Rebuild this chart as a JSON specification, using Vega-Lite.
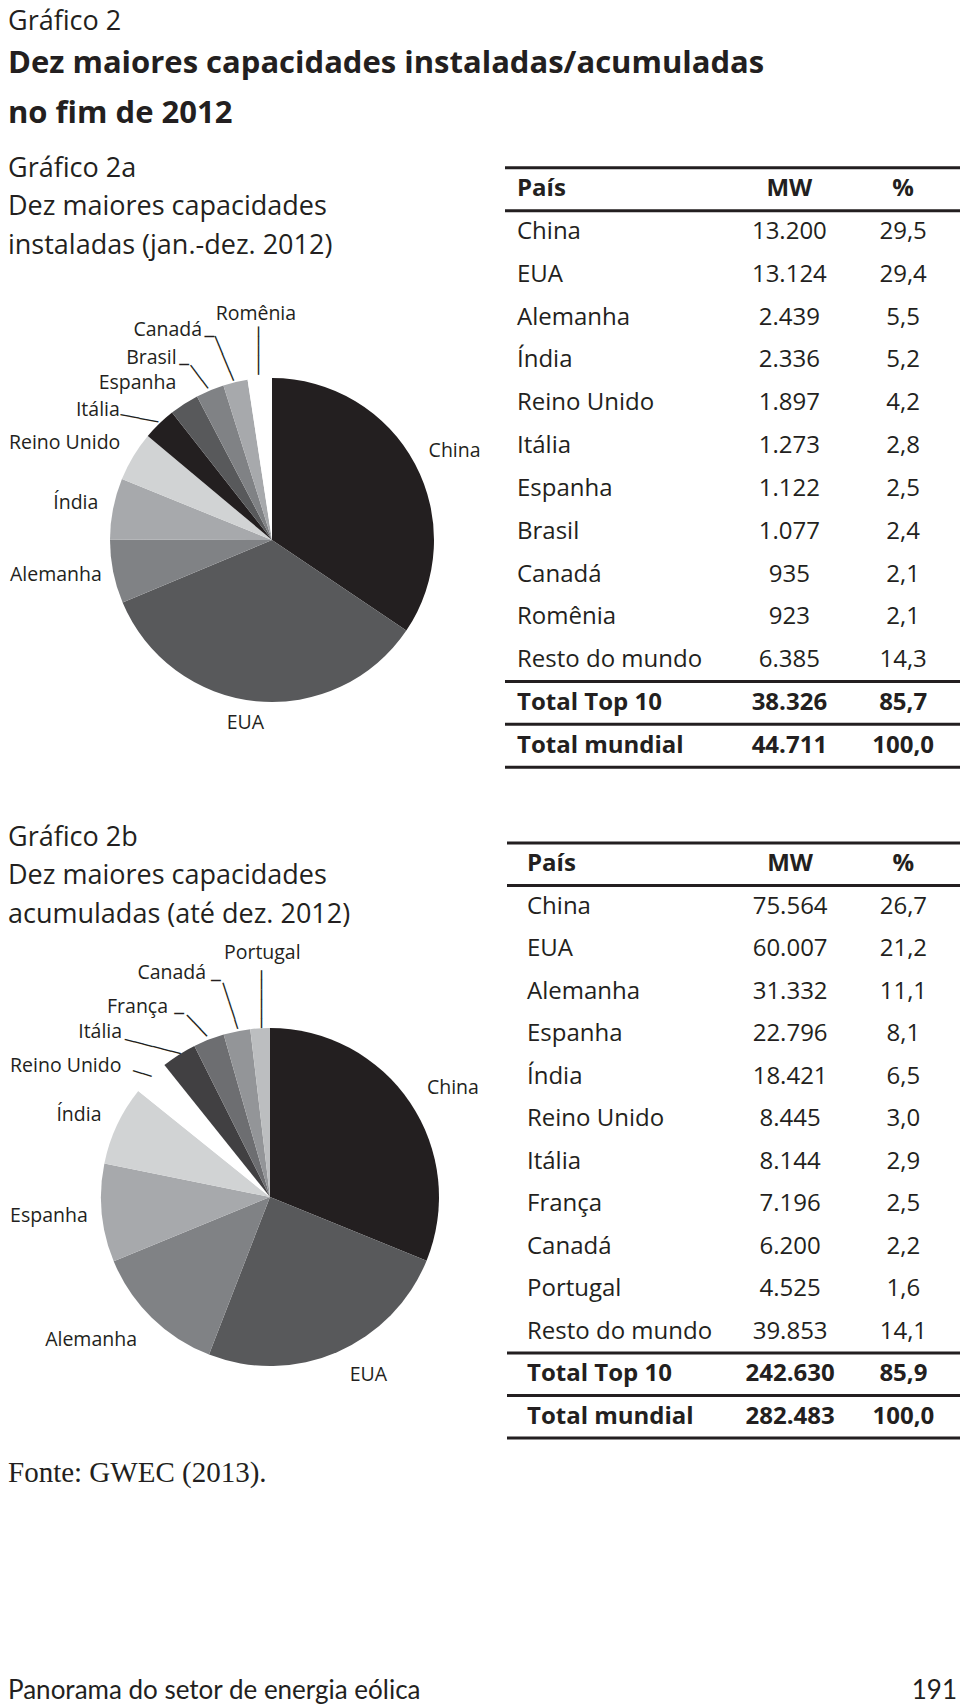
{
  "$schema": "https://vega.github.io/schema/vega-lite/v6.json",
  "padding": {"left": 8, "top": 8, "right": 2, "bottom": 8},
  "background": "white",
  "config": {
    "view": {"stroke": null},
    "font": "Open Sans",
    "locale": {"number": {"decimal": ",", "thousands": ".", "grouping": [3], "currency": ["R$", ""]}},
    "title": {"anchor": "start", "color": "#231f20", "font": "Open Sans", "fontWeight": "normal", "frame": "group"},
    "text": {"color": "#231f20", "font": "Open Sans"}
  },
  "title": {
    "text": "Gráfico 2",
    "fontSize": 27,
    "subtitle": ["Dez maiores capacidades instaladas/acumuladas", "no fim de 2012"],
    "subtitleFont": "Open Sans",
    "subtitleFontSize": 31,
    "subtitleFontWeight": "bold",
    "subtitleColor": "#231f20",
    "subtitleLineHeight": 50,
    "subtitlePadding": 12.5,
    "offset": 25
  },
  "datasets": {
    "instalada": [
      {"pais": "País", "tipo": "cabeçalho"},
      {"pais": "China", "mw": 13200, "pct": 29.5, "tipo": "país"},
      {"pais": "EUA", "mw": 13124, "pct": 29.4, "tipo": "país"},
      {"pais": "Alemanha", "mw": 2439, "pct": 5.5, "tipo": "país"},
      {"pais": "Índia", "mw": 2336, "pct": 5.2, "tipo": "país"},
      {"pais": "Reino Unido", "mw": 1897, "pct": 4.2, "tipo": "país"},
      {"pais": "Itália", "mw": 1273, "pct": 2.8, "tipo": "país"},
      {"pais": "Espanha", "mw": 1122, "pct": 2.5, "tipo": "país"},
      {"pais": "Brasil", "mw": 1077, "pct": 2.4, "tipo": "país"},
      {"pais": "Canadá", "mw": 935, "pct": 2.1, "tipo": "país"},
      {"pais": "Romênia", "mw": 923, "pct": 2.1, "tipo": "país"},
      {"pais": "Resto do mundo", "mw": 6385, "pct": 14.3, "tipo": "resto"},
      {"pais": "Total Top 10", "mw": 38326, "pct": 85.7, "tipo": "total"},
      {"pais": "Total mundial", "mw": 44711, "pct": 100.0, "tipo": "total"}
    ],
    "acumulada": [
      {"pais": "País", "tipo": "cabeçalho"},
      {"pais": "China", "mw": 75564, "pct": 26.7, "tipo": "país"},
      {"pais": "EUA", "mw": 60007, "pct": 21.2, "tipo": "país"},
      {"pais": "Alemanha", "mw": 31332, "pct": 11.1, "tipo": "país"},
      {"pais": "Espanha", "mw": 22796, "pct": 8.1, "tipo": "país"},
      {"pais": "Índia", "mw": 18421, "pct": 6.5, "tipo": "país"},
      {"pais": "Reino Unido", "mw": 8445, "pct": 3.0, "tipo": "país"},
      {"pais": "Itália", "mw": 8144, "pct": 2.9, "tipo": "país"},
      {"pais": "França", "mw": 7196, "pct": 2.5, "tipo": "país"},
      {"pais": "Canadá", "mw": 6200, "pct": 2.2, "tipo": "país"},
      {"pais": "Portugal", "mw": 4525, "pct": 1.6, "tipo": "país"},
      {"pais": "Resto do mundo", "mw": 39853, "pct": 14.1, "tipo": "resto"},
      {"pais": "Total Top 10", "mw": 242630, "pct": 85.9, "tipo": "total"},
      {"pais": "Total mundial", "mw": 282483, "pct": 100.0, "tipo": "total"}
    ],
    "titulos": [
      {"grafico": "2a", "texto": "Gráfico 2a\nDez maiores capacidades\ninstaladas (jan.-dez. 2012)"},
      {"grafico": "2b", "texto": "Gráfico 2b\nDez maiores capacidades\nacumuladas (até dez. 2012)"}
    ]
  },
  "spacing": 2,
  "resolve": {"scale": {"color": "independent", "theta": "independent", "x": "independent", "y": "independent"}},
  "vconcat": [
    {
      "spacing": 0,
      "resolve": {"scale": {"color": "independent", "theta": "independent", "x": "independent", "y": "independent"}},
      "hconcat": [
        {
          "spacing": 0,
          "resolve": {"scale": {"color": "independent", "theta": "independent", "x": "independent", "y": "independent"}},
          "vconcat": [
            {
              "width": 495,
              "height": 1,
              "data": {"name": "titulos"},
              "transform": [{"filter": "datum.grafico === '2a'"}],
              "mark": {"type": "text", "align": "left", "baseline": "top", "fontSize": 27, "lineHeight": 38.5, "lineBreak": "\n"},
              "encoding": {
                "x": {"field": "grafico", "type": "nominal", "bandPosition": 0, "axis": null, "scale": {"type": "band", "paddingInner": 0, "paddingOuter": 0}},
                "text": {"field": "texto"}
              }
            },
            {
              "width": 495,
              "height": 562,
              "data": {"name": "instalada"},
              "transform": [{"filter": "datum.tipo === 'país'"}],
              "layer": [
                {
                  "mark": {"type": "arc", "outerRadius": 162, "xOffset": 16.5},
                  "encoding": {
                    "theta": {"field": "mw", "type": "quantitative", "stack": true},
                    "order": {"field": "mw", "type": "quantitative", "sort": "descending"},
                    "color": {
                      "field": "pais", "type": "nominal", "legend": null,
                      "scale": {
                        "domain": ["China", "EUA", "Alemanha", "Índia", "Reino Unido", "Itália", "Espanha", "Brasil", "Canadá", "Romênia"],
                        "range": ["#231f20", "#58595b", "#808285", "#a7a9ac", "#d1d3d4", "#231f20", "#58595b", "#808285", "#a7a9ac", "#ffffff"]
                      }
                    }
                  }
                },
                {
                  "mark": {
                    "type": "text", "radius": 200, "fontSize": 19.5, "align": "center", "baseline": "middle",
                    "dx": {"expr": "[22.5,9.5,-3.5,16.5,-19.5,-18.5,-9.5,-27.5,-42.5,15.5][indexof(['China','EUA','Alemanha','Índia','Reino Unido','Itália','Espanha','Brasil','Canadá','Romênia'], datum.pais)]"},
                    "dy": {"expr": "[5,-16,-4,2,6,14,11,3,-15,-27][indexof(['China','EUA','Alemanha','Índia','Reino Unido','Itália','Espanha','Brasil','Canadá','Romênia'], datum.pais)]"}
                  },
                  "encoding": {
                    "theta": {"field": "mw", "type": "quantitative", "stack": true},
                    "order": {"field": "mw", "type": "quantitative", "sort": "descending"},
                    "text": {"field": "pais"}
                  }
                },
                {
                  "mark": {
                    "type": "text", "radius": 185, "font": "DejaVu Sans", "fontSize": 16, "align": "center", "baseline": "middle",
                    "angle": {"expr": "[0,0,0,0,0,10.7,0,53.1,67.3,90][indexof(['China','EUA','Alemanha','Índia','Reino Unido','Itália','Espanha','Brasil','Canadá','Romênia'], datum.pais)]"},
                    "dx": {"expr": "[0,0,0,0,0,14.4,0,14.9,2.8,-5][indexof(['China','EUA','Alemanha','Índia','Reino Unido','Itália','Espanha','Brasil','Canadá','Romênia'], datum.pais)]"},
                    "dy": {"expr": "[0,0,0,0,0,9.1,0,-6.7,-9.8,-16.5][indexof(['China','EUA','Alemanha','Índia','Reino Unido','Itália','Espanha','Brasil','Canadá','Romênia'], datum.pais)]"}
                  },
                  "encoding": {
                    "theta": {"field": "mw", "type": "quantitative", "stack": true},
                    "order": {"field": "mw", "type": "quantitative", "sort": "descending"},
                    "text": {
                      "condition": [
                        {"test": "datum.pais === 'Itália'", "value": "────"},
                        {"test": "datum.pais === 'Brasil'", "value": "───"},
                        {"test": "datum.pais === 'Canadá'", "value": "─────"},
                        {"test": "datum.pais === 'Romênia'", "value": "─────"}
                      ],
                      "value": ""
                    }
                  }
                },
                {
                  "mark": {
                    "type": "text", "radius": 185, "font": "DejaVu Sans", "fontSize": 16, "align": "center", "baseline": "middle",
                    "dx": {"expr": "[0,0,0,0,0,0,0,-0.7,-4.4,0][indexof(['China','EUA','Alemanha','Índia','Reino Unido','Itália','Espanha','Brasil','Canadá','Romênia'], datum.pais)]"},
                    "dy": {"expr": "[0,0,0,0,0,0,0,-4.1,-22.7,0][indexof(['China','EUA','Alemanha','Índia','Reino Unido','Itália','Espanha','Brasil','Canadá','Romênia'], datum.pais)]"}
                  },
                  "encoding": {
                    "theta": {"field": "mw", "type": "quantitative", "stack": true},
                    "order": {"field": "mw", "type": "quantitative", "sort": "descending"},
                    "text": {
                      "condition": [
                        {"test": "datum.pais === 'Brasil'", "value": "─"},
                        {"test": "datum.pais === 'Canadá'", "value": "─"}
                      ],
                      "value": ""
                    }
                  }
                }
              ]
            }
          ]
        },
        {
          "width": 455,
          "height": 625,
          "data": {"name": "instalada"},
          "encoding": {
            "y": {
              "field": "pais", "type": "nominal", "axis": null,
              "scale": {"type": "band", "paddingInner": 0, "paddingOuter": 0.3,
                "domain": ["País", "China", "EUA", "Alemanha", "Índia", "Reino Unido", "Itália", "Espanha", "Brasil", "Canadá", "Romênia", "Resto do mundo", "Total Top 10", "Total mundial"]}
            }
          },
          "layer": [
            {
              "transform": [{"filter": "datum.tipo === 'país' || datum.tipo === 'resto'"}],
              "mark": {"type": "text", "align": "left", "baseline": "middle", "fontSize": 24, "dx": 12},
              "encoding": {
                "x": {"datum": "pais", "type": "nominal", "bandPosition": 0, "axis": null, "scale": {"type": "band", "domain": ["pais", "vazio", "mw", "pct"], "paddingInner": 0, "paddingOuter": 0}},
                "text": {"field": "pais"}
              }
            },
            {
              "transform": [{"filter": "datum.tipo === 'cabeçalho' || datum.tipo === 'total'"}],
              "mark": {"type": "text", "align": "left", "baseline": "middle", "fontSize": 24, "fontWeight": "bold", "dx": 12},
              "encoding": {
                "x": {"datum": "pais", "type": "nominal", "bandPosition": 0, "axis": null, "scale": {"type": "band", "domain": ["pais", "vazio", "mw", "pct"], "paddingInner": 0, "paddingOuter": 0}},
                "text": {"field": "pais"}
              }
            },
            {
              "transform": [{"filter": "datum.tipo === 'país' || datum.tipo === 'resto'"}],
              "mark": {"type": "text", "align": "center", "baseline": "middle", "fontSize": 24},
              "encoding": {
                "x": {"datum": "mw", "type": "nominal", "bandPosition": 0.5, "axis": null, "scale": {"type": "band", "domain": ["pais", "vazio", "mw", "pct"], "paddingInner": 0, "paddingOuter": 0}},
                "text": {"field": "mw", "type": "quantitative", "format": ",d"}
              }
            },
            {
              "transform": [{"filter": "datum.tipo === 'total'"}],
              "mark": {"type": "text", "align": "center", "baseline": "middle", "fontSize": 24, "fontWeight": "bold"},
              "encoding": {
                "x": {"datum": "mw", "type": "nominal", "bandPosition": 0.5, "axis": null, "scale": {"type": "band", "domain": ["pais", "vazio", "mw", "pct"], "paddingInner": 0, "paddingOuter": 0}},
                "text": {"field": "mw", "type": "quantitative", "format": ",d"}
              }
            },
            {
              "transform": [{"filter": "datum.tipo === 'país' || datum.tipo === 'resto'"}],
              "mark": {"type": "text", "align": "center", "baseline": "middle", "fontSize": 24},
              "encoding": {
                "x": {"datum": "pct", "type": "nominal", "bandPosition": 0.5, "axis": null, "scale": {"type": "band", "domain": ["pais", "vazio", "mw", "pct"], "paddingInner": 0, "paddingOuter": 0}},
                "text": {"field": "pct", "type": "quantitative", "format": ".1f"}
              }
            },
            {
              "transform": [{"filter": "datum.tipo === 'total'"}],
              "mark": {"type": "text", "align": "center", "baseline": "middle", "fontSize": 24, "fontWeight": "bold"},
              "encoding": {
                "x": {"datum": "pct", "type": "nominal", "bandPosition": 0.5, "axis": null, "scale": {"type": "band", "domain": ["pais", "vazio", "mw", "pct"], "paddingInner": 0, "paddingOuter": 0}},
                "text": {"field": "pct", "type": "quantitative", "format": ".1f"}
              }
            },
            {
              "transform": [{"filter": "datum.tipo === 'cabeçalho'"}],
              "mark": {"type": "text", "align": "center", "baseline": "middle", "fontSize": 24, "fontWeight": "bold"},
              "encoding": {
                "x": {"datum": "mw", "type": "nominal", "bandPosition": 0.5, "axis": null, "scale": {"type": "band", "domain": ["pais", "vazio", "mw", "pct"], "paddingInner": 0, "paddingOuter": 0}},
                "text": {"value": "MW"}
              }
            },
            {
              "transform": [{"filter": "datum.tipo === 'cabeçalho'"}],
              "mark": {"type": "text", "align": "center", "baseline": "middle", "fontSize": 24, "fontWeight": "bold"},
              "encoding": {
                "x": {"datum": "pct", "type": "nominal", "bandPosition": 0.5, "axis": null, "scale": {"type": "band", "domain": ["pais", "vazio", "mw", "pct"], "paddingInner": 0, "paddingOuter": 0}},
                "text": {"value": "%"}
              }
            },
            {
              "transform": [{"filter": "datum.pais === 'País' || datum.pais === 'China' || datum.tipo === 'total'"}],
              "mark": {"type": "rule", "strokeWidth": 3, "color": "#231f20"},
              "encoding": {"y": {"field": "pais", "type": "nominal", "bandPosition": 0}}
            },
            {
              "transform": [{"filter": "datum.pais === 'Total mundial'"}],
              "mark": {"type": "rule", "strokeWidth": 3, "color": "#231f20"},
              "encoding": {"y": {"field": "pais", "type": "nominal", "bandPosition": 1}}
            }
          ]
        }
      ]
    },
    {
      "spacing": 0,
      "resolve": {"scale": {"color": "independent", "theta": "independent", "x": "independent", "y": "independent"}},
      "hconcat": [
        {
          "spacing": 0,
          "resolve": {"scale": {"color": "independent", "theta": "independent", "x": "independent", "y": "independent"}},
          "vconcat": [
            {
              "width": 497,
              "height": 1,
              "data": {"name": "titulos"},
              "transform": [{"filter": "datum.grafico === '2b'"}],
              "mark": {"type": "text", "align": "left", "baseline": "top", "fontSize": 27, "lineHeight": 38.5, "lineBreak": "\n"},
              "encoding": {
                "x": {"field": "grafico", "type": "nominal", "bandPosition": 0, "axis": null, "scale": {"type": "band", "paddingInner": 0, "paddingOuter": 0}},
                "text": {"field": "texto"}
              }
            },
            {
              "width": 497,
              "height": 520,
              "data": {"name": "acumulada"},
              "transform": [{"filter": "datum.tipo === 'país'"}],
              "layer": [
                {
                  "mark": {"type": "arc", "outerRadius": 169, "xOffset": 13.5, "yOffset": 9},
                  "encoding": {
                    "theta": {"field": "mw", "type": "quantitative", "stack": true},
                    "order": {"field": "mw", "type": "quantitative", "sort": "descending"},
                    "color": {
                      "field": "pais", "type": "nominal", "legend": null,
                      "scale": {
                        "domain": ["China", "EUA", "Alemanha", "Espanha", "Índia", "Reino Unido", "Itália", "França", "Canadá", "Portugal"],
                        "range": ["#231f20", "#58595b", "#808285", "#a7a9ac", "#d1d3d4", "#ffffff", "#414042", "#6d6e71", "#939598", "#bcbec0"]
                      }
                    }
                  }
                },
                {
                  "mark": {
                    "type": "text", "radius": 200, "fontSize": 19.5, "align": "center", "baseline": "middle",
                    "dx": {"expr": "[30.5,32.5,-25.5,-8.5,3.5,-49.5,-48.5,-46.5,-45.5,17.5][indexof(['China','EUA','Alemanha','Espanha','Índia','Reino Unido','Itália','França','Canadá','Portugal'], datum.pais)]"},
                    "dy": {"expr": "[12,3,9,9,12,20,12,5,-19,-35][indexof(['China','EUA','Alemanha','Espanha','Índia','Reino Unido','Itália','França','Canadá','Portugal'], datum.pais)]"}
                  },
                  "encoding": {
                    "theta": {"field": "mw", "type": "quantitative", "stack": true},
                    "order": {"field": "mw", "type": "quantitative", "sort": "descending"},
                    "text": {"field": "pais"}
                  }
                },
                {
                  "mark": {
                    "type": "text", "radius": 190, "font": "DejaVu Sans", "fontSize": 16, "align": "center", "baseline": "middle",
                    "angle": {"expr": "[0,0,0,0,0,16.7,14.3,46.2,72.3,90][indexof(['China','EUA','Alemanha','Espanha','Índia','Reino Unido','Itália','França','Canadá','Portugal'], datum.pais)]"},
                    "dx": {"expr": "[0,0,0,0,0,24.9,3.3,17.1,7.3,0.7][indexof(['China','EUA','Alemanha','Espanha','Índia','Reino Unido','Itália','França','Canadá','Portugal'], datum.pais)]"},
                    "dy": {"expr": "[0,0,0,0,0,13.8,18.7,3.9,-8.9,-15.8][indexof(['China','EUA','Alemanha','Espanha','Índia','Reino Unido','Itália','França','Canadá','Portugal'], datum.pais)]"}
                  },
                  "encoding": {
                    "theta": {"field": "mw", "type": "quantitative", "stack": true},
                    "order": {"field": "mw", "type": "quantitative", "sort": "descending"},
                    "text": {
                      "condition": [
                        {"test": "datum.pais === 'Reino Unido'", "value": "──"},
                        {"test": "datum.pais === 'Itália'", "value": "──────"},
                        {"test": "datum.pais === 'França'", "value": "───"},
                        {"test": "datum.pais === 'Canadá'", "value": "─────"},
                        {"test": "datum.pais === 'Portugal'", "value": "──────"}
                      ],
                      "value": ""
                    }
                  }
                },
                {
                  "mark": {
                    "type": "text", "radius": 190, "font": "DejaVu Sans", "fontSize": 16, "align": "center", "baseline": "middle",
                    "dx": {"expr": "[0,0,0,0,0,0,0,-8.5,-3.3,0][indexof(['China','EUA','Alemanha','Espanha','Índia','Reino Unido','Itália','França','Canadá','Portugal'], datum.pais)]"},
                    "dy": {"expr": "[0,0,0,0,0,0,0,3,-20.7,0][indexof(['China','EUA','Alemanha','Espanha','Índia','Reino Unido','Itália','França','Canadá','Portugal'], datum.pais)]"}
                  },
                  "encoding": {
                    "theta": {"field": "mw", "type": "quantitative", "stack": true},
                    "order": {"field": "mw", "type": "quantitative", "sort": "descending"},
                    "text": {
                      "condition": [
                        {"test": "datum.pais === 'França'", "value": "─"},
                        {"test": "datum.pais === 'Canadá'", "value": "─"}
                      ],
                      "value": ""
                    }
                  }
                }
              ]
            }
          ]
        },
        {
          "width": 453,
          "height": 633,
          "data": {"name": "acumulada"},
          "encoding": {
            "y": {
              "field": "pais", "type": "nominal", "axis": null,
              "scale": {"type": "band", "paddingInner": 0, "paddingOuter": 0.447,
                "domain": ["País", "China", "EUA", "Alemanha", "Espanha", "Índia", "Reino Unido", "Itália", "França", "Canadá", "Portugal", "Resto do mundo", "Total Top 10", "Total mundial"]}
            }
          },
          "layer": [
            {
              "transform": [{"filter": "datum.tipo === 'país' || datum.tipo === 'resto'"}],
              "mark": {"type": "text", "align": "left", "baseline": "middle", "fontSize": 24, "dx": 20},
              "encoding": {
                "x": {"datum": "pais", "type": "nominal", "bandPosition": 0, "axis": null, "scale": {"type": "band", "domain": ["pais", "vazio", "mw", "pct"], "paddingInner": 0, "paddingOuter": 0}},
                "text": {"field": "pais"}
              }
            },
            {
              "transform": [{"filter": "datum.tipo === 'cabeçalho' || datum.tipo === 'total'"}],
              "mark": {"type": "text", "align": "left", "baseline": "middle", "fontSize": 24, "fontWeight": "bold", "dx": 20},
              "encoding": {
                "x": {"datum": "pais", "type": "nominal", "bandPosition": 0, "axis": null, "scale": {"type": "band", "domain": ["pais", "vazio", "mw", "pct"], "paddingInner": 0, "paddingOuter": 0}},
                "text": {"field": "pais"}
              }
            },
            {
              "transform": [{"filter": "datum.tipo === 'país' || datum.tipo === 'resto'"}],
              "mark": {"type": "text", "align": "center", "baseline": "middle", "fontSize": 24},
              "encoding": {
                "x": {"datum": "mw", "type": "nominal", "bandPosition": 0.5, "axis": null, "scale": {"type": "band", "domain": ["pais", "vazio", "mw", "pct"], "paddingInner": 0, "paddingOuter": 0}},
                "text": {"field": "mw", "type": "quantitative", "format": ",d"}
              }
            },
            {
              "transform": [{"filter": "datum.tipo === 'total'"}],
              "mark": {"type": "text", "align": "center", "baseline": "middle", "fontSize": 24, "fontWeight": "bold"},
              "encoding": {
                "x": {"datum": "mw", "type": "nominal", "bandPosition": 0.5, "axis": null, "scale": {"type": "band", "domain": ["pais", "vazio", "mw", "pct"], "paddingInner": 0, "paddingOuter": 0}},
                "text": {"field": "mw", "type": "quantitative", "format": ",d"}
              }
            },
            {
              "transform": [{"filter": "datum.tipo === 'país' || datum.tipo === 'resto'"}],
              "mark": {"type": "text", "align": "center", "baseline": "middle", "fontSize": 24},
              "encoding": {
                "x": {"datum": "pct", "type": "nominal", "bandPosition": 0.5, "axis": null, "scale": {"type": "band", "domain": ["pais", "vazio", "mw", "pct"], "paddingInner": 0, "paddingOuter": 0}},
                "text": {"field": "pct", "type": "quantitative", "format": ".1f"}
              }
            },
            {
              "transform": [{"filter": "datum.tipo === 'total'"}],
              "mark": {"type": "text", "align": "center", "baseline": "middle", "fontSize": 24, "fontWeight": "bold"},
              "encoding": {
                "x": {"datum": "pct", "type": "nominal", "bandPosition": 0.5, "axis": null, "scale": {"type": "band", "domain": ["pais", "vazio", "mw", "pct"], "paddingInner": 0, "paddingOuter": 0}},
                "text": {"field": "pct", "type": "quantitative", "format": ".1f"}
              }
            },
            {
              "transform": [{"filter": "datum.tipo === 'cabeçalho'"}],
              "mark": {"type": "text", "align": "center", "baseline": "middle", "fontSize": 24, "fontWeight": "bold"},
              "encoding": {
                "x": {"datum": "mw", "type": "nominal", "bandPosition": 0.5, "axis": null, "scale": {"type": "band", "domain": ["pais", "vazio", "mw", "pct"], "paddingInner": 0, "paddingOuter": 0}},
                "text": {"value": "MW"}
              }
            },
            {
              "transform": [{"filter": "datum.tipo === 'cabeçalho'"}],
              "mark": {"type": "text", "align": "center", "baseline": "middle", "fontSize": 24, "fontWeight": "bold"},
              "encoding": {
                "x": {"datum": "pct", "type": "nominal", "bandPosition": 0.5, "axis": null, "scale": {"type": "band", "domain": ["pais", "vazio", "mw", "pct"], "paddingInner": 0, "paddingOuter": 0}},
                "text": {"value": "%"}
              }
            },
            {
              "transform": [{"filter": "datum.pais === 'País' || datum.pais === 'China' || datum.tipo === 'total'"}],
              "mark": {"type": "rule", "strokeWidth": 3, "color": "#231f20"},
              "encoding": {"y": {"field": "pais", "type": "nominal", "bandPosition": 0}}
            },
            {
              "transform": [{"filter": "datum.pais === 'Total mundial'"}],
              "mark": {"type": "rule", "strokeWidth": 3, "color": "#231f20"},
              "encoding": {"y": {"field": "pais", "type": "nominal", "bandPosition": 1}}
            }
          ]
        }
      ]
    },
    {
      "spacing": 190,
      "resolve": {"scale": {"x": "independent", "y": "independent"}},
      "vconcat": [
        {
          "width": 950,
          "height": 26,
          "data": {"values": [{"texto": "Fonte: GWEC (2013).", "parte": "fonte"}]},
          "mark": {"type": "text", "align": "left", "baseline": "middle", "font": "Liberation Serif", "fontSize": 29},
          "encoding": {
            "x": {"field": "parte", "type": "nominal", "bandPosition": 0, "axis": null, "scale": {"type": "band", "paddingInner": 0, "paddingOuter": 0}},
            "text": {"field": "texto"}
          }
        },
        {
          "width": 949,
          "height": 24,
          "data": {"values": [
            {"texto": "Panorama do setor de energia eólica", "parte": "título"},
            {"texto": "191", "parte": "página"}
          ]},
          "layer": [
            {
              "transform": [{"filter": "datum.parte === 'título'"}],
              "mark": {"type": "text", "align": "left", "baseline": "middle", "font": "Lato", "fontSize": 26},
              "encoding": {
                "x": {"field": "parte", "type": "nominal", "bandPosition": 0, "axis": null, "scale": {"type": "band", "domain": ["título", "página"], "paddingInner": 0, "paddingOuter": 0}},
                "text": {"field": "texto"}
              }
            },
            {
              "transform": [{"filter": "datum.parte === 'página'"}],
              "mark": {"type": "text", "align": "right", "baseline": "middle", "font": "Lato", "fontSize": 26},
              "encoding": {
                "x": {"field": "parte", "type": "nominal", "bandPosition": 1, "axis": null, "scale": {"type": "band", "domain": ["título", "página"], "paddingInner": 0, "paddingOuter": 0}},
                "text": {"field": "texto"}
              }
            }
          ]
        }
      ]
    }
  ]
}
